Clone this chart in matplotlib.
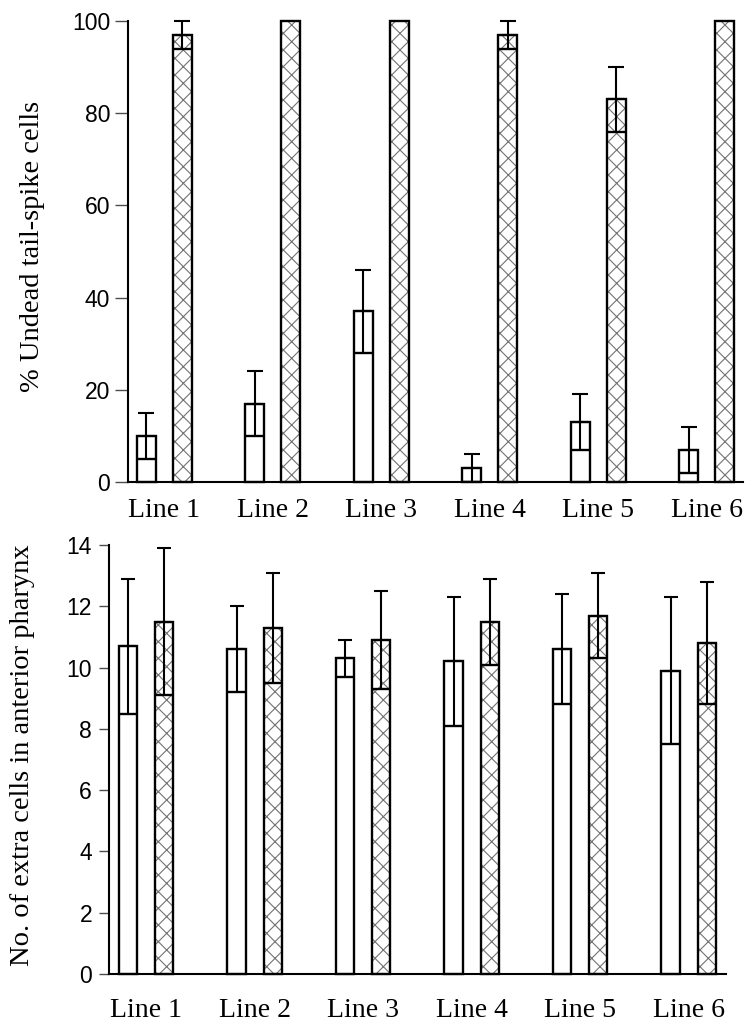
import matplotlib.pyplot as plt
import numpy as np

plt.rcParams["hatch.linewidth"] = 0.8

lines = ["Line 1", "Line 2", "Line 3", "Line 4", "Line 5", "Line 6"]

# % undead tail-spike cells (open / hatched), mean and sd
undead_open = [10, 17, 37, 3, 13, 7]
undead_open_err = [5, 7, 9, 3, 6, 5]
undead_hatch = [97, 100, 100, 97, 83, 100]
undead_hatch_err = [3, 0, 0, 3, 7, 0]

# no. of extra cells in anterior pharynx
extra_open = [10.7, 10.6, 10.3, 10.2, 10.6, 9.9]
extra_open_err = [2.2, 1.4, 0.6, 2.1, 1.8, 2.4]
extra_hatch = [11.5, 11.3, 10.9, 11.5, 11.7, 10.8]
extra_hatch_err = [2.4, 1.8, 1.6, 1.4, 1.4, 2.0]

serif = "Liberation Serif"
sans = "Liberation Sans"


def draw_panel(ax, opn, opn_err, hat, hat_err, width, capsize):
    x = np.arange(len(lines))
    off = 0.167
    # open bars
    ax.bar(x - off, opn, width, color="white", edgecolor="black",
           linewidth=1.7, zorder=2, clip_on=False)
    # hatched bars: grey hatch, then black outline on top
    ax.bar(x + off, hat, width, color="white", edgecolor="0.45",
           hatch="xx", linewidth=0, zorder=2, clip_on=False)
    ax.bar(x + off, hat, width, fill=False, edgecolor="black",
           linewidth=1.7, zorder=3, clip_on=False)

    # error bars: cap on top, full-width line at the lower end
    for xs, vals, errs in [(x - off, opn, opn_err), (x + off, hat, hat_err)]:
        for xc, v, e in zip(xs, vals, errs):
            if e <= 0:
                continue
            ax.errorbar(xc, v, yerr=[[0], [e]], fmt="none", ecolor="black",
                        elinewidth=1.5, capsize=capsize, capthick=1.5,
                        zorder=4, clip_on=False)
            ax.vlines(xc, v - e, v, color="black", linewidth=1.5, zorder=4)
            ax.hlines(v - e, xc - width / 2, xc + width / 2, color="black",
                      linewidth=1.7, zorder=4)

    ax.set_xticks(x)
    ax.set_xticklabels(lines, fontsize=20, family=serif)
    ax.tick_params(axis="x", length=0)
    ax.spines["top"].set_visible(False)
    ax.spines["right"].set_visible(False)
    ax.spines["left"].set_linewidth(1.5)
    ax.spines["bottom"].set_linewidth(1.5)


fig = plt.figure(figsize=(7.49, 10.27), dpi=100)

ax1 = fig.add_axes([0.1709, 0.5307, 0.992 - 0.1709, 0.9796 - 0.5307])
ax1.set_ylim(0, 100)
ax1.set_xlim(-0.334, 5.333)
ax1.set_yticks(np.arange(0, 101, 20))
draw_panel(ax1, undead_open, undead_open_err, undead_hatch, undead_hatch_err,
           0.175, 6)
ax1.tick_params(axis="y", direction="out", length=9.4, width=1, color="0.3",
                pad=3.5)
ax1.tick_params(axis="x", pad=11.5)

ax2 = fig.add_axes([0.1455, 0.0516, 0.969 - 0.1455, 0.4693 - 0.0516])
ax2.set_ylim(0, 14)
ax2.set_xlim(-0.343, 5.342)
ax2.set_yticks(np.arange(0, 15, 2))
draw_panel(ax2, extra_open, extra_open_err, extra_hatch, extra_hatch_err,
           0.169, 5)
ax2.tick_params(axis="y", direction="out", length=7.2, width=1, color="0.3",
                pad=5)
ax2.tick_params(axis="x", pad=17)

for lab in ax1.get_yticklabels() + ax2.get_yticklabels():
    lab.set_family(sans)
    lab.set_fontsize(16.5)

fig.text(0.044, 0.7605, "% Undead tail-spike cells", rotation=90,
         ha="center", va="center", fontsize=20.5, family=serif)
fig.text(0.0294, 0.2649, "No. of extra cells in anterior pharynx", rotation=90,
         ha="center", va="center", fontsize=20.5, family=serif)

fig.savefig("out.png", dpi=100)
